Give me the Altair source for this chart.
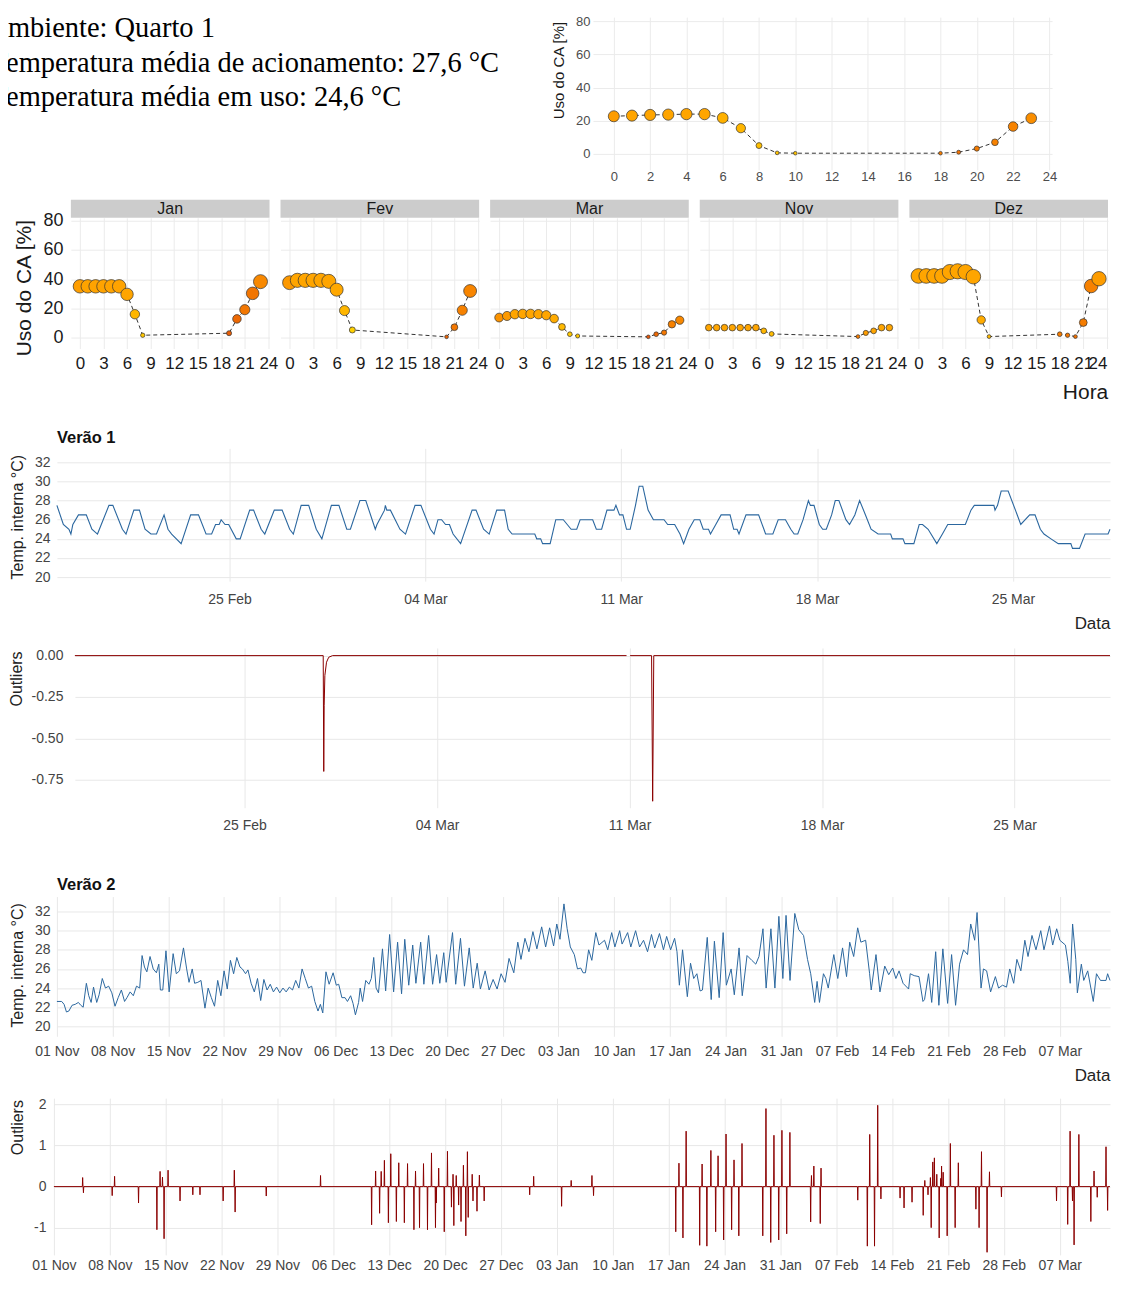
import altair as alt
import pandas as pd

FONTE = "Liberation Sans"

# ---------------- texto ----------------
texto_linhas = ["Ambiente: Quarto 1",
                "Temperatura média de acionamento: 27,6 °C",
                "Temperatura média em uso: 24,6 °C"]

# ---------------- perfil geral (uso do CA por hora) ----------------
geral_hora = [0, 1, 2, 3, 4, 5, 6, 7, 8, 9, 10, 18, 19, 20, 21, 22, 23]
geral_uso = [22.7, 23.1, 23.5, 23.7, 24.0, 24.0, 21.7, 15.5, 5.0, 0.6, 0.4, 0.4, 1.0, 3.2, 7.0, 16.5, 21.5]
geral_tac = [25.4, 25.0, 25.0, 25.0, 25.0, 25.0, 24.6, 24.4, 24.1, 24.0, 24.0, 26.8, 27.2, 26.8, 26.6, 26.5, 26.0]

# ---------------- perfis mensais ----------------
meses = ["Jan", "Fev", "Mar", "Nov", "Dez"]
jan_hora = [0, 1, 2, 3, 4, 5, 6, 7, 8, 19, 20, 21, 22, 23]
jan_uso = [35.1, 35.1, 35.1, 35.1, 35.1, 35.1, 29.6, 16.0, 1.6, 3.0, 12.8, 19.1, 30.3, 38.3]
jan_tac = [25.3, 25.1, 25.1, 25.1, 25.1, 25.1, 25.0, 24.4, 23.8, 28.0, 27.6, 27.0, 27.1, 26.3]
fev_hora = [0, 1, 2, 3, 4, 5, 6, 7, 8, 20, 21, 22, 23]
fev_uso = [37.6, 39.2, 39.2, 39.2, 39.2, 38.5, 32.8, 18.5, 5.2, 0.5, 7.1, 18.7, 31.9]
fev_tac = [25.6, 25.0, 25.0, 25.0, 25.0, 25.0, 24.9, 24.4, 23.5, 27.8, 27.0, 26.6, 26.4]
mar_hora = [0, 1, 2, 3, 4, 5, 6, 7, 8, 9, 10, 19, 20, 21, 22, 23]
mar_uso = [13.7, 14.8, 16.0, 16.2, 16.2, 16.0, 15.3, 13.0, 7.3, 2.3, 1.1, 0.5, 2.3, 3.4, 9.1, 11.9]
mar_tac = [25.8, 25.5, 25.0, 25.0, 25.0, 25.0, 25.0, 24.8, 24.3, 23.8, 23.8, 28.3, 27.6, 27.0, 26.6, 26.3]
nov_hora = [0, 1, 2, 3, 4, 5, 6, 7, 8, 19, 20, 21, 22, 23]
nov_uso = [6.8, 6.8, 6.8, 6.8, 6.8, 6.8, 6.8, 4.6, 2.5, 0.7, 3.2, 4.6, 6.8, 6.8]
nov_tac = [25.0, 25.0, 25.0, 25.0, 25.0, 25.0, 25.0, 24.4, 24.2, 26.8, 25.4, 25.0, 25.0, 25.0]
dez_hora = [0, 1, 2, 3, 4, 5, 6, 7, 8, 9, 18, 19, 20, 21, 22, 23]
dez_uso = [42.2, 42.2, 42.2, 42.2, 44.9, 45.4, 44.9, 41.7, 12.1, 0.7, 2.3, 1.6, 0.7, 10.3, 35.3, 40.3]
dez_tac = [25.0, 25.0, 25.0, 25.0, 25.0, 25.0, 25.0, 25.0, 24.8, 24.3, 26.8, 27.0, 27.2, 26.8, 26.6, 25.4]

# ---------------- Verão 1 (dias a partir de 25 Feb 2018, temperatura) ----------------
v1_inicio = "2018-02-25"
v1_pontos = [
    (-6.17, 27.5), (-5.94, 25.5), (-5.74, 25.0), (-5.67, 24.5), (-5.60, 25.5), (-5.40, 26.5), (-5.12, 26.5),
    (-4.92, 25.0), (-4.72, 24.5), (-4.31, 27.5), (-4.17, 27.5), (-3.83, 25.0), (-3.70, 24.5), (-3.42, 27.0),
    (-3.22, 27.0), (-3.02, 25.0), (-2.81, 24.5), (-2.61, 24.5), (-2.34, 26.5), (-2.20, 25.0), (-2.07, 24.5),
    (-1.73, 23.5), (-1.39, 26.5), (-1.11, 26.5), (-0.84, 24.5), (-0.64, 24.5), (-0.50, 25.5), (-0.37, 25.5),
    (-0.30, 26.0), (-0.16, 25.5), (-0.03, 25.5), (0.24, 24.0), (0.38, 24.0), (0.72, 27.0), (0.86, 27.0),
    (1.13, 25.0), (1.26, 24.5), (1.60, 27.0), (1.88, 27.0), (2.15, 25.0), (2.28, 24.5), (2.56, 27.5),
    (2.83, 27.5), (3.10, 25.0), (3.30, 24.0), (3.64, 27.5), (3.91, 27.5), (4.19, 25.0), (4.32, 25.0),
    (4.66, 28.0), (4.87, 28.0), (5.21, 25.0), (5.27, 25.5), (5.54, 27.0), (5.57, 27.5), (5.62, 27.0),
    (5.75, 27.0), (6.09, 25.0), (6.29, 24.5), (6.63, 27.5), (6.84, 27.5), (7.18, 25.0), (7.31, 24.5),
    (7.45, 26.0), (7.58, 26.0), (7.72, 25.5), (7.86, 25.5), (7.99, 24.5), (8.26, 23.5), (8.67, 27.0),
    (8.81, 27.0), (9.08, 25.0), (9.28, 24.5), (9.55, 27.0), (9.83, 27.0), (9.96, 25.0), (10.10, 24.5),
    (10.91, 24.5), (10.98, 24.0), (11.12, 24.0), (11.19, 23.5), (11.46, 23.5), (11.66, 26.0), (11.93, 26.0),
    (12.07, 25.5), (12.21, 25.0), (12.41, 25.0), (12.53, 26.0), (12.98, 26.0), (13.11, 25.0), (13.30, 25.0),
    (13.49, 27.0), (13.74, 27.0), (13.81, 27.5), (13.94, 26.5), (14.06, 26.5), (14.19, 25.0), (14.32, 25.0),
    (14.51, 27.5), (14.64, 29.5), (14.77, 29.5), (14.96, 27.0), (15.15, 26.0), (15.53, 26.0), (15.66, 25.5),
    (15.91, 25.5), (16.10, 24.5), (16.23, 23.5), (16.42, 25.0), (16.61, 26.0), (16.81, 26.0), (16.93, 25.0),
    (17.12, 25.0), (17.19, 24.5), (17.38, 25.5), (17.57, 26.5), (17.89, 26.5), (18.02, 25.0), (18.14, 25.0),
    (18.21, 24.5), (18.46, 26.5), (18.91, 26.5), (19.10, 25.0), (19.16, 24.5), (19.42, 24.5), (19.61, 26.0),
    (19.87, 26.0), (20.06, 25.0), (20.18, 24.5), (20.31, 24.5), (20.50, 26.0), (20.69, 28.0), (20.76, 27.5),
    (20.89, 27.5), (21.08, 25.5), (21.20, 25.0), (21.33, 25.0), (21.52, 26.5), (21.65, 28.0), (21.78, 28.0),
    (22.03, 26.0), (22.16, 25.5), (22.35, 26.5), (22.52, 28.0), (22.73, 26.5), (22.93, 25.0), (23.18, 24.5),
    (23.63, 24.5), (23.69, 24.0), (24.07, 24.0), (24.14, 23.5), (24.46, 23.5), (24.65, 25.5), (24.77, 25.5),
    (24.97, 25.0), (25.28, 23.5), (25.48, 24.5), (25.67, 25.5), (26.30, 25.5), (26.50, 27.0), (26.62, 27.5),
    (27.32, 27.5), (27.36, 27.0), (27.45, 27.5), (27.58, 29.0), (27.83, 29.0), (28.09, 27.0), (28.28, 25.5),
    (28.60, 26.5), (28.79, 26.5), (28.98, 25.0), (29.11, 24.5), (29.36, 24.0), (29.62, 23.5), (30.07, 23.5),
    (30.13, 23.0), (30.38, 23.0), (30.58, 24.5), (31.40, 24.5), (31.47, 25.0),
]

# Outliers Verão 1 (dia, valor, trecho)
o1_pontos = [
    (-6.17, 0.0, 0), (2.86, 0.0, 0), (2.88, -0.70, 0), (2.895, -0.30, 0), (2.92, -0.12, 0),
    (2.98, -0.04, 0), (3.06, -0.01, 0), (3.20, 0.0, 0), (13.89, 0.0, 0),
    (14.02, 0.0, 1), (14.80, 0.0, 1), (14.84, -0.88, 1), (14.88, 0.0, 1), (31.47, 0.0, 1),
]

# ---------------- Verão 2 (dias a partir de 01 Nov 2018, temperatura) ----------------
v2_inicio = "2018-11-01"
v2_pontos = [
    (0.0, 22.6), (0.6, 22.6), (0.9, 22.3), (1.2, 21.5), (1.5, 21.6), (1.9, 22.2), (2.3, 22.3), (2.7, 22.5),
    (3.0, 22.2), (3.3, 22.0), (3.7, 24.5), (4.0, 23.2), (4.3, 22.5), (4.6, 24.1), (5.0, 22.5), (5.3, 23.3),
    (5.7, 25.0), (6.1, 24.0), (6.5, 24.2), (6.9, 23.5), (7.3, 22.1), (7.7, 23.0), (8.1, 23.8), (8.5, 22.6),
    (8.8, 23.0), (9.2, 23.6), (9.6, 23.2), (10.0, 24.2), (10.4, 24.0), (10.7, 27.4), (11.0, 26.2), (11.3, 25.7),
    (11.7, 27.3), (12.1, 26.0), (12.5, 25.6), (12.8, 26.5), (13.0, 23.8), (13.3, 23.8), (13.7, 27.9), (14.1, 23.6),
    (14.6, 27.6), (15.0, 25.5), (15.4, 25.8), (15.9, 28.2), (16.3, 26.0), (16.6, 24.6), (17.0, 26.0), (17.3, 24.5),
    (17.7, 24.6), (18.1, 24.8), (18.6, 21.9), (19.0, 24.0), (19.4, 23.0), (19.8, 22.1), (20.2, 24.8), (20.6, 23.2),
    (21.0, 25.8), (21.4, 23.9), (21.8, 26.9), (22.2, 25.5), (22.6, 27.2), (23.0, 26.2), (23.3, 26.0), (23.7, 25.5),
    (24.0, 25.9), (24.4, 24.5), (24.8, 23.6), (25.2, 25.0), (25.6, 22.7), (26.0, 24.9), (26.4, 23.8), (26.8, 24.4),
    (27.2, 23.6), (27.6, 24.1), (28.0, 23.5), (28.4, 24.0), (28.8, 23.6), (29.2, 24.1), (29.6, 23.8), (30.0, 24.8),
    (30.4, 24.0), (30.8, 26.0), (31.2, 25.0), (31.6, 24.0), (32.0, 24.2), (32.4, 22.6), (32.8, 21.6), (33.1, 22.3),
    (33.4, 21.4), (33.8, 25.7), (34.2, 24.4), (34.7, 25.6), (35.1, 24.3), (35.4, 24.4), (35.8, 23.0), (36.2, 23.0),
    (36.5, 22.6), (36.9, 23.2), (37.2, 22.4), (37.5, 21.2), (37.9, 22.5), (38.1, 24.0), (38.4, 22.6), (38.8, 24.8),
    (39.2, 24.4), (39.5, 25.0), (39.8, 27.2), (40.1, 24.0), (40.4, 23.5), (40.9, 28.1), (41.3, 23.7), (41.8, 29.6),
    (42.3, 23.6), (42.8, 28.8), (43.3, 23.4), (43.7, 29.1), (44.2, 24.3), (44.7, 28.5), (45.1, 24.5), (45.7, 28.8),
    (46.1, 24.4), (46.7, 29.5), (47.2, 24.4), (47.7, 27.5), (48.1, 24.5), (48.6, 27.7), (48.9, 24.6), (49.7, 29.8),
    (50.1, 24.4), (50.7, 29.2), (51.2, 24.2), (51.8, 28.2), (52.3, 24.0), (52.8, 26.6), (53.2, 23.9), (53.8, 25.8),
    (54.3, 23.8), (54.8, 24.9), (55.3, 23.9), (55.8, 25.5), (56.3, 24.6), (56.8, 27.1), (57.4, 25.6), (57.9, 28.8),
    (58.3, 27.0), (58.8, 29.2), (59.3, 27.8), (59.8, 29.9), (60.3, 28.1), (60.9, 30.4), (61.4, 28.3), (61.9, 30.3),
    (62.4, 28.4), (62.8, 30.7), (63.2, 29.1), (63.7, 32.8), (64.1, 30.2), (64.5, 28.3), (65.0, 27.5), (65.4, 26.0),
    (65.8, 26.1), (66.1, 25.6), (66.4, 25.6), (66.8, 28.0), (67.2, 26.9), (67.7, 29.8), (68.1, 28.5), (68.8, 29.0),
    (69.2, 28.0), (69.7, 29.8), (70.1, 28.3), (70.7, 30.0), (71.0, 28.6), (71.7, 29.8), (72.1, 28.3), (72.7, 30.0),
    (73.2, 28.3), (73.7, 29.0), (74.2, 27.8), (74.7, 29.6), (75.1, 28.2), (75.7, 29.7), (76.2, 28.0), (76.6, 29.4),
    (77.1, 28.0), (77.6, 29.2), (77.9, 27.8), (78.2, 24.3), (78.6, 28.0), (79.2, 23.1), (79.6, 26.6), (80.0, 25.0),
    (80.4, 25.5), (80.8, 23.7), (81.1, 23.8), (81.7, 29.3), (82.2, 22.8), (82.6, 28.9), (83.2, 23.0), (83.7, 29.8),
    (84.1, 24.3), (84.7, 26.0), (85.1, 23.3), (85.7, 28.2), (86.1, 23.2), (86.7, 27.4), (87.3, 26.9), (87.8, 26.5),
    (88.2, 27.3), (88.7, 30.2), (89.1, 24.0), (89.7, 30.2), (90.2, 24.0), (90.7, 31.5), (91.2, 25.0), (91.6, 31.6),
    (92.1, 24.8), (92.7, 31.8), (93.2, 30.1), (93.8, 29.5), (94.3, 27.0), (94.7, 25.5), (95.2, 22.5), (95.5, 24.7),
    (95.8, 22.5), (96.3, 25.5), (96.6, 25.0), (96.9, 24.0), (97.6, 27.5), (98.1, 25.0), (98.7, 28.2), (99.2, 25.2),
    (99.6, 28.8), (100.1, 27.3), (100.6, 30.3), (101.0, 28.8), (101.6, 29.0), (102.1, 25.5), (102.3, 23.8),
    (102.9, 27.5), (103.4, 23.6), (104.0, 26.3), (104.5, 25.4), (105.0, 26.1), (105.4, 25.0), (105.8, 25.8),
    (106.3, 24.5), (107.0, 23.9), (107.2, 25.5), (107.7, 25.3), (108.3, 25.2), (108.8, 22.6), (109.0, 22.8),
    (109.5, 25.5), (109.9, 22.5), (110.4, 27.8), (110.8, 22.2), (111.3, 28.1), (111.9, 22.4), (112.4, 27.5),
    (112.9, 22.2), (113.4, 26.5), (113.9, 28.0), (114.4, 27.5), (114.8, 30.7), (115.3, 29.0), (115.6, 31.9),
    (116.1, 24.0), (116.4, 26.0), (116.8, 25.8), (117.3, 23.6), (117.9, 25.2), (118.3, 24.0), (118.8, 24.3),
    (119.3, 24.1), (119.7, 26.0), (120.2, 24.5), (120.6, 27.0), (121.1, 25.8), (121.6, 29.0), (122.0, 27.3),
    (122.5, 29.5), (123.0, 28.0), (123.6, 30.0), (124.0, 28.0), (124.7, 30.5), (125.1, 28.5), (125.6, 30.2),
    (126.0, 29.0), (126.7, 28.5), (127.0, 26.8), (127.3, 24.5), (127.6, 30.7), (128.0, 27.0), (128.2, 23.5),
    (128.7, 26.5), (129.0, 24.8), (129.5, 25.8), (130.2, 22.6), (130.6, 25.5), (131.1, 24.8), (131.8, 24.8),
    (132.0, 25.5), (132.3, 24.8),
]

# Outliers Verão 2: picos (dia, valor)
o2_fim = 132.3
o2_picos = [
    (3.6, 0.22), (3.7, -0.15), (7.3, -0.22), (7.6, 0.25), (10.6, -0.40), (12.9, -1.05), (13.3, 0.37),
    (13.6, 0.23), (13.8, -1.27), (14.3, 0.40), (15.8, -0.35), (17.4, -0.20), (18.3, -0.20), (21.2, -0.35),
    (22.6, 0.40), (22.7, -0.62), (26.6, -0.23), (33.4, 0.27),
    (39.8, -0.93), (40.3, 0.38), (40.8, -0.65), (41.0, 0.37), (41.4, 0.64), (41.9, -0.88), (42.2, 0.80),
    (42.9, -0.85), (43.2, 0.58), (43.9, -0.88), (44.3, 0.56), (45.1, -1.05), (45.3, 0.38), (45.8, -1.00),
    (46.3, 0.56), (46.8, -1.05), (47.3, 0.82), (47.8, -1.00), (47.9, -0.40), (48.2, 0.45), (48.9, -1.10),
    (49.3, 0.86), (49.8, -0.50), (50.0, 0.30), (50.1, -0.95), (50.4, 0.27), (50.7, -0.45), (51.0, -0.85),
    (51.3, 0.52), (51.6, -1.20), (51.8, 0.85), (51.9, -0.75), (52.4, 0.30), (52.5, -0.35), (53.0, -0.60),
    (53.3, 0.28), (53.9, -0.35),
    (59.6, -0.20), (60.1, 0.25), (63.6, -0.48), (64.8, 0.15), (67.4, 0.27), (67.6, -0.22),
    (77.9, -1.10), (78.3, 0.57), (78.8, -1.25), (79.2, 1.35), (80.9, -1.43), (81.2, 0.55), (81.8, -1.45),
    (82.3, 0.88), (82.9, -1.10), (83.2, 0.75), (83.9, -1.30), (84.2, 1.28), (84.9, -1.05), (85.2, 0.65),
    (85.8, -1.20), (86.2, 1.05), (88.8, -1.20), (89.2, 1.90), (89.8, -1.36), (90.2, 1.25), (90.8, -1.30),
    (91.2, 1.37), (91.8, -1.15), (92.2, 1.32), (94.8, -0.86), (94.9, 0.27), (95.2, 0.50), (96.0, -0.90),
    (96.1, 0.45), (100.7, -0.33), (101.9, -1.45), (102.2, 1.27), (102.8, -1.45), (103.2, 1.98), (103.6, -0.30),
    (106.0, -0.28), (106.5, -0.52), (107.5, -0.38), (108.9, -0.70), (109.1, 0.15), (109.5, -0.20), (109.8, 0.22),
    (109.9, -1.00), (110.1, 0.60), (110.3, 0.70), (110.6, 0.30), (110.9, -1.25), (111.1, 0.20), (111.2, 0.50),
    (111.4, 0.35), (111.9, -1.20), (112.3, 1.05), (112.9, -1.00), (113.3, 0.58), (115.5, -0.55), (115.9, -1.00),
    (116.2, 0.85), (116.9, -1.60), (117.2, 0.36), (118.7, -0.25), (125.6, -0.35), (127.0, -0.92), (127.3, 1.35),
    (127.6, -0.35), (127.8, -1.42), (128.4, 1.27), (129.9, -0.85), (130.3, 0.38), (130.7, -0.26), (131.8, 0.97),
    (132.0, -0.58),
]

# ---------------- eixos de datas ----------------
v1_ticks = [(2018, 2, 25), (2018, 3, 4), (2018, 3, 11), (2018, 3, 18), (2018, 3, 25)]
v2_ticks = [(d.year, d.month, d.day) for d in pd.date_range("2018-11-01", "2019-03-07", freq="7D")]


# ======================================================================
def datas(inicio, dias):
    return pd.Timestamp(inicio) + pd.to_timedelta(dias, unit="D")


def dt_list(ticks):
    return [alt.DateTime(year=y, month=m, date=d) for (y, m, d) in ticks]


one = pd.DataFrame({"a": [0]})


def hspacer(w):
    return alt.Chart(one).mark_rect(opacity=0).encode(
        x=alt.value(0), x2=alt.value(w), y=alt.value(0), y2=alt.value(1)
    ).properties(width=w, height=1)


def vspacer(h):
    return alt.Chart(one).mark_rect(opacity=0).encode(
        x=alt.value(0), x2=alt.value(1), y=alt.value(0), y2=alt.value(h)
    ).properties(width=1, height=h)


cor_tac = alt.Color("Tac:Q", legend=None,
                    scale=alt.Scale(domain=[23.5, 25.0, 26.8, 28.5],
                                    range=["#ffd000", "#ffa500", "#f57c00", "#e4520a"]))
TC = 50  # evita que o Vega descarte valores de ticks

# ---------------- linha 1: texto + perfil geral ----------------
texto_layers = []
recuos = [-20.6, -17.4, -17.4]
bases = [20, 55, 89.3]
for i, t in enumerate(texto_linhas):
    texto_layers.append(
        alt.Chart(pd.DataFrame({"t": [t]})).mark_text(
            font="Liberation Serif", fontSize=28.5, align="left", baseline="alphabetic",
            clip=True, color="#000000"
        ).encode(x=alt.value(recuos[i]), y=alt.value(bases[i]), text="t:N")
    )
texto_chart = alt.layer(*texto_layers).properties(width=586, height=120)

df_g = pd.DataFrame({"Hora": geral_hora, "Uso": geral_uso, "Tac": geral_tac})
xg = alt.X("Hora:Q", scale=alt.Scale(domain=[-1.15, 24.15], nice=False, zero=False),
           axis=alt.Axis(values=list(range(0, 25, 2)), tickCount=TC, format="d", labelFontSize=13,
                         labelColor="#4d4d4d", labelPadding=0.5, gridColor="#ebebeb", title=None))
yg = alt.Y("Uso:Q", scale=alt.Scale(domain=[-9.65, 82.55], nice=False, zero=False),
           axis=alt.Axis(values=[0, 20, 40, 60, 80], tickCount=TC, format="d", labelFontSize=13,
                         labelColor="#4d4d4d", labelPadding=3, gridColor="#ebebeb", title="Uso do CA [%]",
                         titleFontSize=15, titleColor="#1a1a1a", titleX=-34, titleY=53, titleAlign="center",
                         titleBaseline="middle"))
geral_linha = alt.Chart(df_g).mark_line(color="#333333", strokeDash=[4, 3], strokeWidth=1).encode(x=xg, y=yg)
geral_pts = alt.Chart(df_g).mark_circle(opacity=1, stroke="#333333", strokeWidth=0.7).encode(
    x="Hora:Q", y="Uso:Q",
    size=alt.Size("Uso:Q", scale=alt.Scale(domain=[0, 24], range=[11, 230]), legend=None),
    color=cor_tac)
geral_chart = alt.layer(geral_linha, geral_pts).properties(width=460, height=153)

linha1 = alt.hconcat(texto_chart, geral_chart, spacing=0, bounds="flush")

# ---------------- linha 2: painéis mensais ----------------
dados_meses = [(jan_hora, jan_uso, jan_tac), (fev_hora, fev_uso, fev_tac), (mar_hora, mar_uso, mar_tac),
               (nov_hora, nov_uso, nov_tac), (dez_hora, dez_uso, dez_tac)]
PW, PH = 199, 131
paineis = []
for i, (mes, (h, u, tc)) in enumerate(zip(meses, dados_meses)):
    df = pd.DataFrame({"Hora": h, "Uso": u, "Tac": tc})
    xkw = dict(values=list(range(0, 25, 3)), tickCount=TC, format="d", labelFontSize=17,
               labelColor="#1a1a1a", labelPadding=7, gridColor="#ebebeb")
    if i == 4:
        xkw.update(title="Hora", titleFontSize=21, titleColor="#1a1a1a", titleX=176, titleY=44,
                   titleAlign="center", titleBaseline="middle", labelFlush=2)
    else:
        xkw.update(title=None)
    ykw = dict(values=[0, 20, 40, 60, 80], tickCount=TC, format="d", gridColor="#ebebeb")
    if i == 0:
        ykw.update(labelFontSize=18, labelColor="#1a1a1a", labelPadding=8, title="Uso do CA [%]",
                   titleFontSize=21, titleColor="#1a1a1a", titleX=-46, titleY=70,
                   titleAlign="center", titleBaseline="middle")
    else:
        ykw.update(labels=False, title=None)
    xs = alt.X("Hora:Q", scale=alt.Scale(domain=[-1.15, 24.15], nice=False, zero=False), axis=alt.Axis(**xkw))
    ys = alt.Y("Uso:Q", scale=alt.Scale(domain=[-7.5, 82.05], nice=False, zero=False), axis=alt.Axis(**ykw))
    strip_df = pd.DataFrame({"Mes": [mes]})
    strip_bg = alt.Chart(strip_df).mark_rect(color="#cccccc").encode(
        x=alt.value(0), x2=alt.value(PW), y=alt.value(-18), y2=alt.value(0))
    strip_tx = alt.Chart(strip_df).mark_text(font=FONTE, fontSize=16, color="#1a1a1a", baseline="middle",
                                             align="center").encode(
        x=alt.value(PW / 2), y=alt.value(-9), text="Mes:N")
    ln = alt.Chart(df).mark_line(color="#333333", strokeDash=[4, 3], strokeWidth=1).encode(x=xs, y=ys)
    pts = alt.Chart(df).mark_circle(opacity=1, stroke="#333333", strokeWidth=0.7).encode(
        x="Hora:Q", y="Uso:Q",
        size=alt.Size("Uso:Q", scale=alt.Scale(domain=[0, 45], range=[11, 235]), legend=None),
        color=cor_tac)
    paineis.append(alt.layer(strip_bg, strip_tx, ln, pts).properties(width=PW, height=PH))

linha2 = alt.hconcat(hspacer(52), *paineis, spacing=11, bounds="flush")

# ---------------- séries temporais ----------------
LBL = dict(labelFontSize=14, labelColor="#444444", gridColor="#e8e8e8")


def titulo(txt, off):
    return alt.TitleParams(txt, anchor="start", frame="group", fontSize=16.5, fontWeight="bold",
                           font=FONTE, baseline="alphabetic", offset=off, color="#111111")


# Verão 1 temperatura
df_v1 = pd.DataFrame({"Data": datas(v1_inicio, [p[0] for p in v1_pontos]),
                      "Temp": [p[1] for p in v1_pontos]})
v1_chart = alt.Chart(df_v1).mark_line(color="#2b679f", strokeWidth=1.1).encode(
    x=alt.X("Data:T", scale=alt.Scale(nice=False),
            axis=alt.Axis(values=dt_list(v1_ticks), format="%d %b", labelPadding=11, title="Data",
                          titleFontSize=17, titleColor="#222222", titleX=1037, titleY=42,
                          titleAlign="center", titleBaseline="middle", **LBL)),
    y=alt.Y("Temp:Q", scale=alt.Scale(domain=[19.58, 33.46], nice=False, zero=False),
            axis=alt.Axis(values=[20, 22, 24, 26, 28, 30, 32], tickCount=TC, format="d", labelPadding=7,
                          title="Temp. interna °C)",
                          titleFontSize=16, titleColor="#222222", titleX=-39.6, titleY=68.5,
                          titleAlign="center", titleBaseline="middle", **LBL)),
).properties(width=1055, height=133, title=titulo("Verão 1", -10.7))
linha3 = alt.hconcat(hspacer(48.6), v1_chart, spacing=0, bounds="flush")

# Outliers Verão 1
df_o1 = pd.DataFrame({"Data": datas(v1_inicio, [p[0] for p in o1_pontos]),
                      "Out": [p[1] for p in o1_pontos], "seg": [p[2] for p in o1_pontos]})
o1_chart = alt.Chart(df_o1).mark_line(color="#8b0000", strokeWidth=1).encode(
    x=alt.X("Data:T", scale=alt.Scale(nice=False),
            axis=alt.Axis(values=dt_list(v1_ticks), format="%d %b", labelPadding=11, title=None, **LBL)),
    y=alt.Y("Out:Q", scale=alt.Scale(domain=[-0.919, 0.046], nice=False, zero=False),
            axis=alt.Axis(values=[0, -0.25, -0.5, -0.75], tickCount=TC, format=".2f", labelPadding=12,
                          title="Outliers",
                          titleFontSize=16, titleColor="#222222", titleX=-58, titleY=30.5,
                          titleAlign="center", titleBaseline="middle", **LBL)),
    detail="seg:N",
).properties(width=1037, height=160)
linha4 = alt.hconcat(hspacer(67), o1_chart, spacing=0, bounds="flush")

# Verão 2 temperatura
df_v2 = pd.DataFrame({"Data": datas(v2_inicio, [p[0] for p in v2_pontos]),
                      "Temp": [p[1] for p in v2_pontos]})
v2_chart = alt.Chart(df_v2).mark_line(color="#2b679f", strokeWidth=1).encode(
    x=alt.X("Data:T", scale=alt.Scale(nice=False),
            axis=alt.Axis(values=dt_list(v2_ticks), format="%d %b", labelPadding=8, title="Data",
                          titleFontSize=17, titleColor="#222222", titleX=1037, titleY=39,
                          titleAlign="center", titleBaseline="middle", **LBL)),
    y=alt.Y("Temp:Q", scale=alt.Scale(domain=[18.96, 33.57], nice=False, zero=False),
            axis=alt.Axis(values=[20, 22, 24, 26, 28, 30, 32], tickCount=TC, format="d", labelPadding=7,
                          title="Temp. interna °C)",
                          titleFontSize=16, titleColor="#222222", titleX=-39.6, titleY=68.5,
                          titleAlign="center", titleBaseline="middle", **LBL)),
).properties(width=1055, height=140, title=titulo("Verão 2", -10.0))
linha5 = alt.hconcat(hspacer(48.6), v2_chart, spacing=0, bounds="flush")

# Outliers Verão 2
o2_rows = [(0.0, 0.0)]
for d, v in o2_picos:
    o2_rows += [(d - 0.04, 0.0), (d, v), (d + 0.04, 0.0)]
o2_rows.append((o2_fim, 0.0))
df_o2 = pd.DataFrame({"Data": datas(v2_inicio, [r[0] for r in o2_rows]), "Out": [r[1] for r in o2_rows]})
o2_chart = alt.Chart(df_o2).mark_line(color="#8b0000", strokeWidth=1).encode(
    x=alt.X("Data:T", scale=alt.Scale(nice=False),
            axis=alt.Axis(values=dt_list(v2_ticks), format="%d %b", labelPadding=3.5, title=None, **LBL)),
    y=alt.Y("Out:Q", scale=alt.Scale(domain=[-1.663, 2.153], nice=False, zero=False),
            axis=alt.Axis(values=[-1, 0, 1, 2], tickCount=TC, format="d", labelPadding=8, title="Outliers",
                          titleFontSize=16, titleColor="#222222", titleX=-36.6, titleY=29,
                          titleAlign="center", titleBaseline="middle", **LBL)),
).properties(width=1058, height=157)
linha6 = alt.hconcat(hspacer(45.6), o2_chart, spacing=0, bounds="flush")

chart = alt.vconcat(
    linha1, vspacer(16), linha2, vspacer(26.2), linha3, vspacer(16.5), linha4,
    vspacer(44), linha5, vspacer(13.8), linha6, spacing=0
).properties(padding={"left": 0, "top": 6, "right": 0, "bottom": 0})

chart = chart.configure(
    locale=alt.Locale(number=alt.NumberLocale(decimal=".", thousands=",", grouping=[3],
                                              currency=["$", ""], minus="-"))
).configure_view(stroke=None).configure_axis(
    labelFont=FONTE, titleFont=FONTE, titleFontWeight="normal", domain=False, ticks=False, tickSize=0,
    labelFlush=False, labelOverlap=False, titleLimit=1000
).configure_title(font=FONTE)

chart.save("out.html", embed_options={"renderer": "svg", "actions": False})
